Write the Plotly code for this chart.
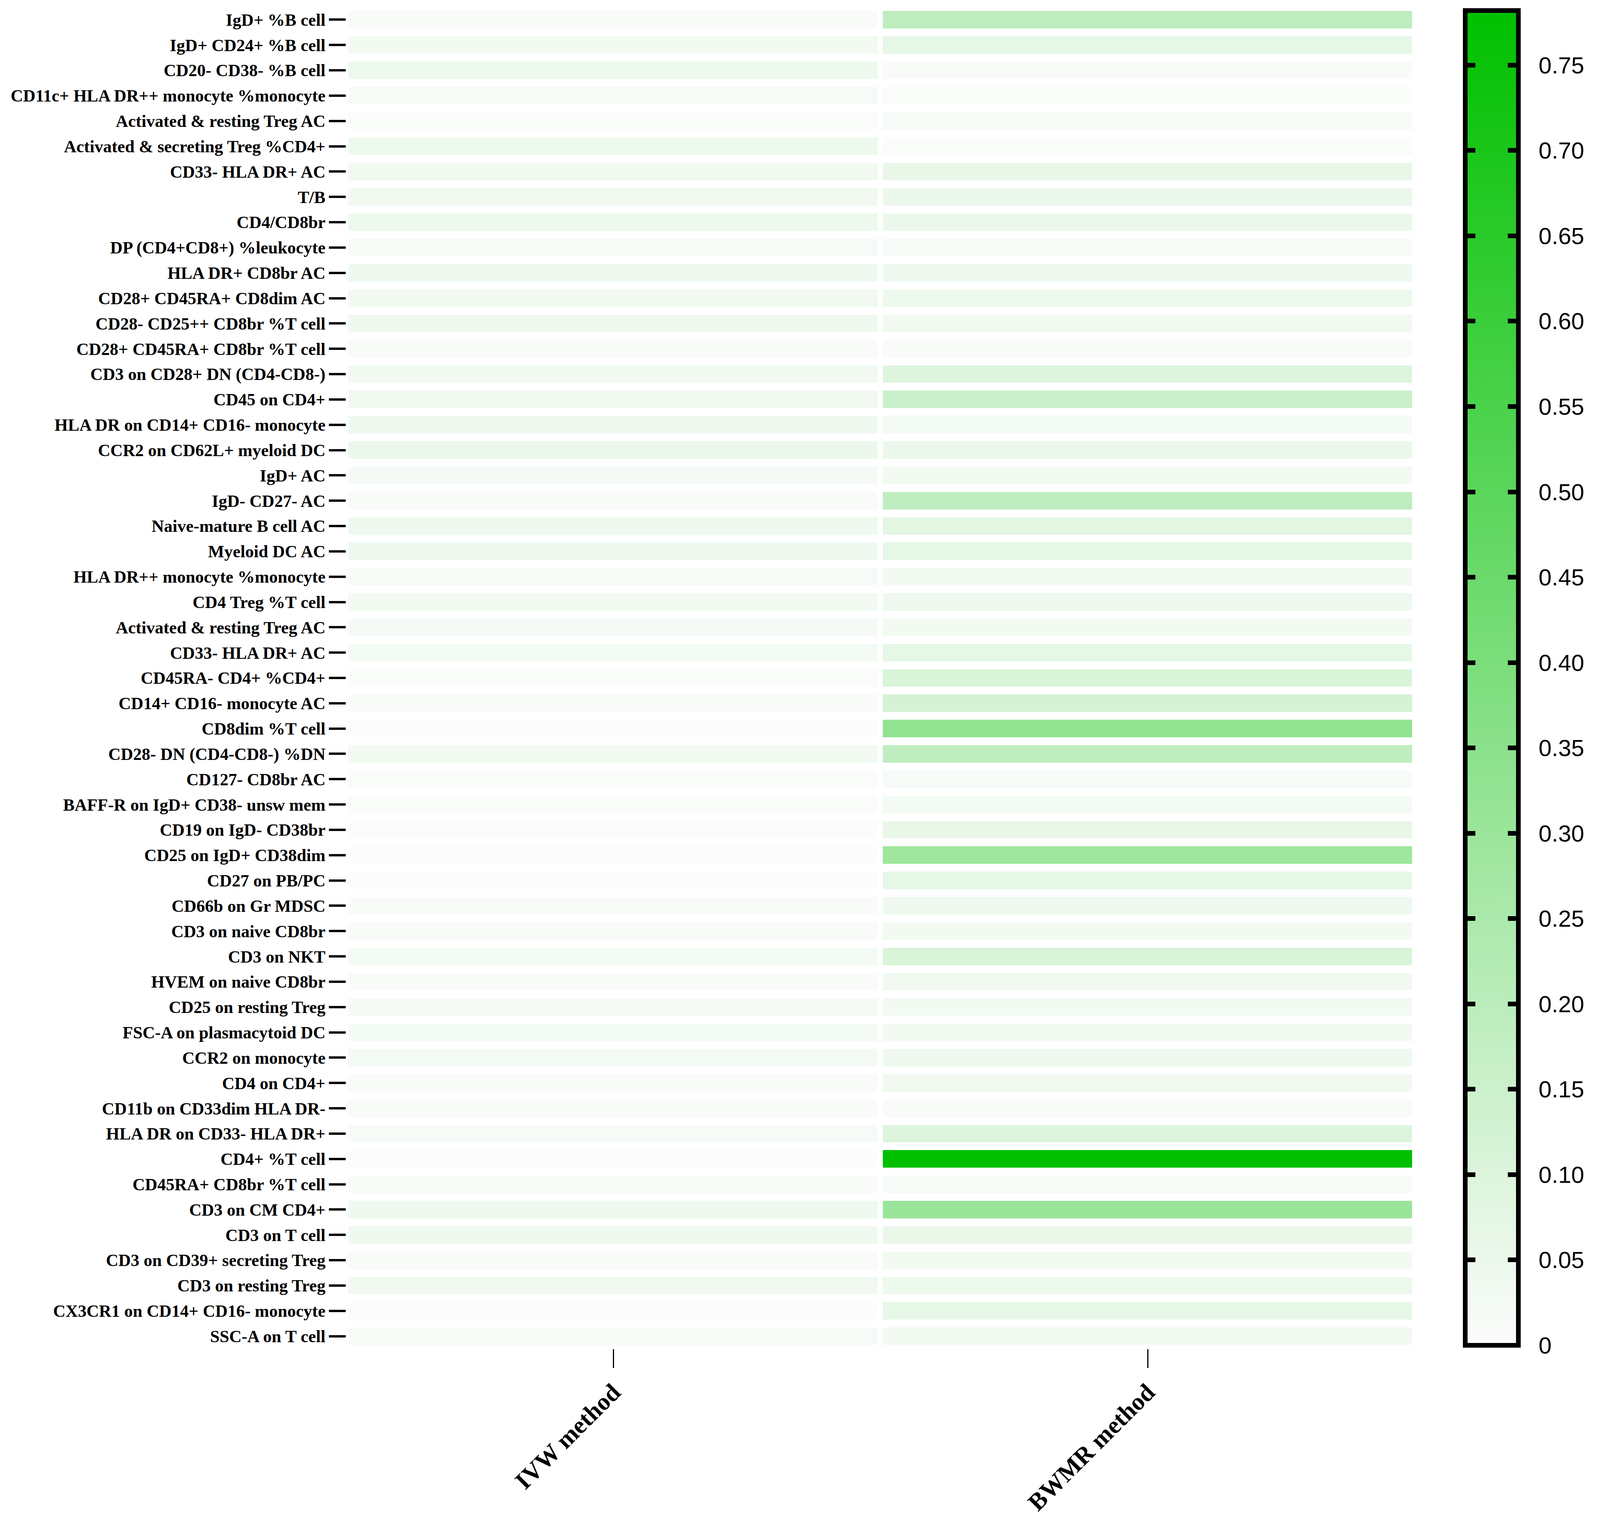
import plotly.graph_objects as go

# Row labels, top to bottom (some names appear twice, so rows are placed by index)
traits = [
    "IgD+ %B cell", "IgD+ CD24+ %B cell", "CD20- CD38- %B cell",
    "CD11c+ HLA DR++ monocyte %monocyte", "Activated & resting Treg AC",
    "Activated & secreting Treg %CD4+", "CD33- HLA DR+ AC", "T/B", "CD4/CD8br",
    "DP (CD4+CD8+) %leukocyte", "HLA DR+ CD8br AC", "CD28+ CD45RA+ CD8dim AC",
    "CD28- CD25++ CD8br %T cell", "CD28+ CD45RA+ CD8br %T cell",
    "CD3 on CD28+ DN (CD4-CD8-)", "CD45 on CD4+", "HLA DR on CD14+ CD16- monocyte",
    "CCR2 on CD62L+ myeloid DC", "IgD+ AC", "IgD- CD27- AC", "Naive-mature B cell AC",
    "Myeloid DC AC", "HLA DR++ monocyte %monocyte", "CD4 Treg %T cell",
    "Activated & resting Treg AC", "CD33- HLA DR+ AC", "CD45RA- CD4+ %CD4+",
    "CD14+ CD16- monocyte AC", "CD8dim %T cell", "CD28- DN (CD4-CD8-) %DN",
    "CD127- CD8br AC", "BAFF-R on IgD+ CD38- unsw mem", "CD19 on IgD- CD38br",
    "CD25 on IgD+ CD38dim", "CD27 on PB/PC", "CD66b on Gr MDSC", "CD3 on naive CD8br",
    "CD3 on NKT", "HVEM on naive CD8br", "CD25 on resting Treg",
    "FSC-A on plasmacytoid DC", "CCR2 on monocyte", "CD4 on CD4+",
    "CD11b on CD33dim HLA DR-", "HLA DR on CD33- HLA DR+", "CD4+ %T cell",
    "CD45RA+ CD8br %T cell", "CD3 on CM CD4+", "CD3 on T cell",
    "CD3 on CD39+ secreting Treg", "CD3 on resting Treg",
    "CX3CR1 on CD14+ CD16- monocyte", "SSC-A on T cell",
]

methods = ["IVW method", "BWMR method"]

ivw = [0.010, 0.030, 0.045, 0.015, 0.005, 0.045, 0.035, 0.035, 0.045, 0.015,
       0.040, 0.035, 0.040, 0.008, 0.035, 0.035, 0.040, 0.050, 0.020, 0.008,
       0.040, 0.040, 0.015, 0.030, 0.020, 0.025, 0.005, 0.008, 0.000, 0.030,
       0.005, 0.005, 0.003, 0.000, 0.002, 0.010, 0.008, 0.025, 0.012, 0.020,
       0.025, 0.025, 0.008, 0.008, 0.015, 0.003, 0.008, 0.040, 0.040, 0.012,
       0.035, 0.000, 0.015]

bwmr = [0.190, 0.070, 0.010, 0.005, 0.015, 0.005, 0.060, 0.050, 0.050, 0.015,
        0.040, 0.045, 0.035, 0.008, 0.095, 0.155, 0.025, 0.050, 0.030, 0.190,
        0.080, 0.070, 0.030, 0.040, 0.030, 0.070, 0.110, 0.125, 0.330, 0.190,
        0.015, 0.025, 0.060, 0.290, 0.070, 0.040, 0.030, 0.110, 0.035, 0.030,
        0.030, 0.040, 0.035, 0.010, 0.095, 0.780, 0.015, 0.300, 0.055, 0.030,
        0.045, 0.065, 0.030]

cbar_vals = [0, 0.05, 0.10, 0.15, 0.20, 0.25, 0.30, 0.35, 0.40, 0.45, 0.50,
             0.55, 0.60, 0.65, 0.70, 0.75]
cbar_text = ["0", "0.05", "0.10", "0.15", "0.20", "0.25", "0.30", "0.35", "0.40",
             "0.45", "0.50", "0.55", "0.60", "0.65", "0.70", "0.75"]

rows = list(range(len(traits)))
z = [[a, b] for a, b in zip(ivw, bwmr)]
zmax = 0.782

serif = "Liberation Serif, Times New Roman, serif"
sans = "Liberation Sans, Arial, sans-serif"

# the captured page is only ~4096 px wide, so the layout is squeezed to fit it
W, H = 4090, 3900
L, R, T, B = 878, 10, 10, 454
paper_w = W - L - R
heat_right = 3627          # right edge of the heatmap, px
bar_left = 3756            # left edge of the colour bar, px
bar_w = 136                # colour bar thickness, px
bar_len = 3418             # colour bar length, px
tick_len = 26

common_bar = dict(
    xpad=0, y=0.5, yanchor="middle", ypad=0,
    len=bar_len, lenmode="pixels",
    tickvals=cbar_vals, tickcolor="black", tickwidth=12,
)
clear = [[0, "rgba(0,0,0,0)"], [1, "rgba(0,0,0,0)"]]

fig = go.Figure()

fig.add_trace(go.Heatmap(
    z=z, x=[0, 1], y=rows,
    zmin=0, zmax=zmax,
    colorscale=[[0, "#FCFCFC"], [1, "#00C000"]],
    xgap=13, ygap=20,
    colorbar=dict(
        common_bar,
        x=(bar_left - L) / paper_w, xanchor="left",
        thickness=bar_w,
        outlinewidth=12, outlinecolor="black",
        ticktext=["\u00a0\u00a0" + t for t in cbar_text],
        ticks="inside", ticklen=tick_len,
        tickfont=dict(family=sans, size=60, color="black"),
    ),
))

# same cells, fully transparent: only their colour bars are used, to draw the
# tick marks along both inner edges of the visible bar
for tick_start in (bar_left, bar_left + bar_w - tick_len):
    fig.add_trace(go.Heatmap(
        z=z, x=[0, 1], y=rows,
        zmin=0, zmax=zmax,
        colorscale=clear,
        xgap=13, ygap=20, hoverinfo="skip",
        colorbar=dict(
            common_bar,
            x=(tick_start - 2 - L) / paper_w, xanchor="left",
            thickness=2, outlinewidth=0,
            ticks="outside", ticklen=tick_len,
            showticklabels=False,
        ),
    ))

fig.update_layout(
    xaxis=dict(
        domain=[0, (heat_right - L) / paper_w],
        range=[-0.5, 1.5],
        tickvals=[0, 1], ticktext=methods,
        tickangle=-45,
        ticks="outside", ticklen=48, tickwidth=3, tickcolor="black",
        tickfont=dict(family=serif, size=63, color="black", weight="bold"),
        showgrid=False, zeroline=False, showline=False,
    ),
    yaxis=dict(
        range=[len(traits) - 0.5, -0.5],
        tickvals=rows, ticktext=traits,
        ticks="outside", ticklen=43, tickwidth=6, tickcolor="black",
        tickfont=dict(family=serif, size=44, color="black", weight="bold"),
        showgrid=False, zeroline=False, showline=False,
    ),
    width=W, height=H,
    margin=dict(l=L, r=R, t=T, b=B),
    plot_bgcolor="white", paper_bgcolor="white",
)

fig.write_html("out.html")
